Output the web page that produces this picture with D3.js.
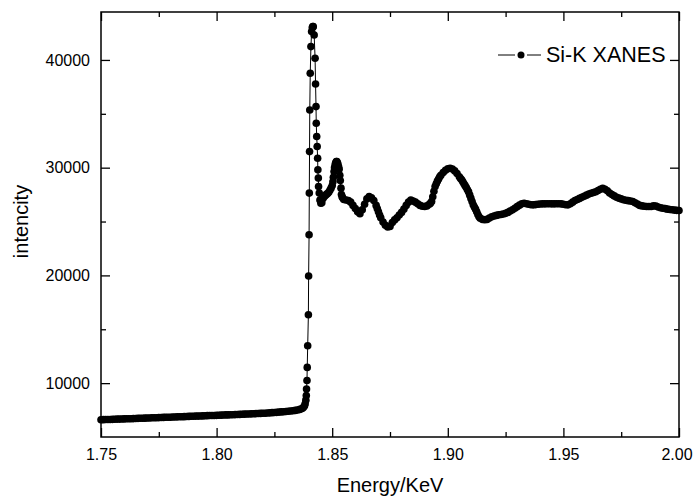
<!DOCTYPE html>
<html><head><meta charset="utf-8">
<script src="https://cdn.jsdelivr.net/npm/d3@7/dist/d3.min.js"></script>
<style>
body{margin:0;background:#fff}
svg{display:block}
text{font-family:"Liberation Sans",Arial,Helvetica,sans-serif;fill:#000}
</style>
</head><body>
<svg id="chart" width="693" height="496"></svg>
<script>
// ---- data (energy in keV, intensity in counts) ----
const preEdge = [
[1.750,6600],[1.751,6610],[1.752,6620],[1.753,6620],[1.754,6630],[1.755,6640],[1.756,6650],[1.757,6660],[1.758,6660],[1.759,6670],
[1.760,6680],[1.761,6690],[1.762,6700],[1.763,6700],[1.764,6710],[1.765,6720],[1.766,6730],[1.767,6740],[1.768,6740],[1.769,6750],
[1.770,6760],[1.771,6770],[1.772,6780],[1.773,6790],[1.774,6790],[1.775,6800],[1.776,6810],[1.777,6820],[1.778,6830],[1.779,6830],
[1.780,6840],[1.781,6850],[1.782,6860],[1.783,6870],[1.784,6880],[1.785,6880],[1.786,6890],[1.787,6900],[1.788,6910],[1.789,6920],
[1.790,6930],[1.791,6940],[1.792,6940],[1.793,6950],[1.794,6960],[1.795,6970],[1.796,6980],[1.797,6990],[1.798,6990],[1.799,7000],
[1.800,7010],[1.801,7020],[1.802,7030],[1.803,7040],[1.804,7050],[1.805,7050],[1.806,7060],[1.807,7070],[1.808,7080],[1.809,7090],
[1.810,7100],[1.811,7110],[1.812,7120],[1.813,7130],[1.814,7140],[1.815,7150],[1.816,7160],[1.817,7170],[1.818,7180],[1.819,7190],
[1.820,7200],[1.821,7210],[1.822,7230],[1.823,7240],[1.824,7260],[1.825,7270],[1.826,7290],[1.827,7310],[1.828,7330],[1.829,7350],
[1.830,7370],[1.831,7390],[1.832,7410],[1.833,7440],[1.834,7470],[1.835,7510],[1.836,7560],[1.837,7650],[1.8375,7740],[1.838,7870]
];
const edgeJump = [
[1.8383,8080],[1.8386,8420],[1.8388,8850],[1.8389,9450],[1.8391,10250],[1.8392,11460],[1.8394,13470],[1.8397,16350],
[1.8398,19940],[1.8400,23770],[1.8401,27640],[1.8402,31490],[1.8403,35360],[1.8405,38760],[1.8408,41240],[1.8411,42630],
[1.8414,43000],[1.8416,43100],[1.8418,43090],[1.8422,42320],[1.8426,40160],[1.8428,37770],[1.8430,35670],[1.8431,34130],
[1.8433,32890],[1.8435,31960],[1.8437,30880],[1.8438,29800],[1.8440,29030],[1.8441,28250],[1.8444,27640],[1.8447,27000],[1.8451,26700]
];
const postEdge = [
[1.8455,26750],[1.8460,27150],[1.8465,27300],[1.8470,27420],[1.8475,27520],[1.8480,27600],[1.8485,27720],[1.8490,27900],[1.8495,28100],
[1.8500,28350],[1.8503,28700],[1.8505,29100],[1.8508,29650],[1.8510,30000],[1.8513,30300],[1.8515,30450],[1.8518,30560],[1.8520,30560],
[1.8523,30450],[1.8525,30300],[1.8528,30050],[1.8530,29850],[1.8533,29300],[1.8535,28800],[1.8538,28100],[1.8540,27500],[1.8543,27300],
[1.8545,27200],[1.8550,27050],[1.856,27000],[1.857,26950],[1.858,26800],[1.859,26500],[1.860,26200],[1.861,25900],[1.862,25720],
[1.863,26100],[1.864,26600],[1.865,27100],[1.866,27320],[1.867,27200],[1.868,26950],[1.869,26500],[1.8695,26200],[1.870,25900],
[1.8705,25600],[1.871,25350],[1.872,24950],[1.873,24650],[1.874,24500],[1.875,24550],[1.876,24900],[1.877,25150],[1.878,25350],
[1.879,25600],[1.880,25850],[1.881,26150],[1.882,26500],[1.883,26800],[1.884,27000],[1.885,26900],[1.886,26800],[1.887,26650],
[1.888,26500],[1.889,26420],[1.890,26400],[1.891,26450],[1.892,26600],[1.8925,26700],[1.893,26860],[1.8935,27300],[1.894,27800],
[1.8945,28250],[1.895,28500],[1.8955,28750],[1.896,28950],[1.8965,29150],[1.897,29300],[1.898,29550],[1.899,29750],[1.900,29900],
[1.901,29950],[1.902,29870],[1.903,29700],[1.904,29450],[1.905,29150],[1.9055,29000],[1.906,28870],[1.9065,28700],[1.907,28500],
[1.9075,28330],[1.908,28150],[1.9085,27950],[1.909,27750],[1.9095,27450],[1.910,27150],[1.9105,26850],[1.911,26550],[1.9115,26350],
[1.912,26150],[1.9125,25900],[1.913,25650],[1.9135,25450],[1.914,25300],[1.915,25200],[1.916,25160],[1.917,25200],[1.918,25330],
[1.919,25450],[1.920,25520],[1.921,25570],[1.922,25620],[1.923,25650],[1.924,25700],[1.925,25760],[1.926,25850],[1.927,25980],
[1.928,26100],[1.929,26230],[1.930,26380],[1.931,26520],[1.932,26640],[1.933,26700],[1.934,26650],[1.935,26600],[1.936,26560],
[1.937,26550],[1.938,26570],[1.939,26600],[1.940,26630],[1.941,26640],[1.942,26640],[1.943,26650],[1.944,26650],[1.945,26640],
[1.946,26640],[1.947,26650],[1.948,26650],[1.949,26640],[1.950,26600],[1.951,26560],[1.952,26550],[1.953,26650],[1.954,26800],
[1.955,26950],[1.956,27050],[1.957,27150],[1.958,27250],[1.959,27350],[1.960,27450],[1.961,27550],[1.962,27620],[1.963,27690],
[1.964,27760],[1.965,27880],[1.966,28000],[1.967,28090],[1.968,28000],[1.969,27850],[1.970,27650],[1.971,27500],[1.972,27380],
[1.973,27250],[1.974,27170],[1.975,27100],[1.976,27020],[1.977,26970],[1.978,26940],[1.979,26900],[1.980,26860],[1.981,26750],
[1.982,26620],[1.983,26500],[1.984,26450],[1.985,26420],[1.986,26400],[1.987,26390],[1.988,26400],[1.989,26450],[1.990,26440],
[1.991,26350],[1.992,26280],[1.993,26240],[1.994,26200],[1.995,26150],[1.996,26120],[1.997,26090],[1.998,26060],[1.999,26040],[2.000,26020]
];
const xTicks = [1.75, 1.80, 1.85, 1.90, 1.95, 2.00];
const xMinorTicks = [1.775, 1.825, 1.875, 1.925, 1.975];
const yTicks = [10000, 20000, 30000, 40000];
const yMinorTicks = [15000, 25000, 35000];
const xDomain = [1.75, 2.00];
const yDomain = [5000, 44450];
const xTitle = "Energy/KeV";
const yTitle = "intencity";
const seriesName = "Si-K XANES";

// ---- layout ----
const L = 101, R = 679, T = 12, B = 437;
const svg = d3.select("#chart");
const x = d3.scaleLinear().domain(xDomain).range([L, R]);
const y = d3.scaleLinear().domain(yDomain).range([B, T]);
const data = preEdge.concat(edgeJump, postEdge);

function styleAxis(g){
  g.select(".domain").remove();
  g.selectAll(".tick line").attr("stroke","#000").attr("stroke-width",1.3);
  g.selectAll(".tick text").attr("font-size",16).attr("font-family",'"Liberation Sans",Arial,sans-serif').attr("fill","#000");
}
const MAJ = -9, MIN = -5;
// bottom
const gb = svg.append("g").attr("transform",`translate(0,${B})`)
  .call(d3.axisBottom(x).tickValues(xTicks).tickSize(MAJ).tickPadding(11.5).tickFormat(d3.format(".2f"))).call(styleAxis);
gb.selectAll(".tick text").filter(d => d === xDomain[1]).attr("dx", -2.5);
svg.append("g").attr("transform",`translate(0,${B})`)
  .call(d3.axisBottom(x).tickValues(xMinorTicks).tickSize(MIN).tickFormat("")).call(styleAxis);
// top
svg.append("g").attr("transform",`translate(0,${T})`)
  .call(d3.axisTop(x).tickValues(xTicks).tickSize(MAJ).tickFormat("")).call(styleAxis);
svg.append("g").attr("transform",`translate(0,${T})`)
  .call(d3.axisTop(x).tickValues(xMinorTicks).tickSize(MIN).tickFormat("")).call(styleAxis);
// left
svg.append("g").attr("transform",`translate(${L},0)`)
  .call(d3.axisLeft(y).tickValues(yTicks).tickSize(MAJ).tickPadding(11).tickFormat(d3.format("d"))).call(styleAxis);
svg.append("g").attr("transform",`translate(${L},0)`)
  .call(d3.axisLeft(y).tickValues(yMinorTicks).tickSize(MIN).tickFormat("")).call(styleAxis);
// right
svg.append("g").attr("transform",`translate(${R},0)`)
  .call(d3.axisRight(y).tickValues(yTicks).tickSize(MAJ).tickFormat("")).call(styleAxis);
svg.append("g").attr("transform",`translate(${R},0)`)
  .call(d3.axisRight(y).tickValues(yMinorTicks).tickSize(MIN).tickFormat("")).call(styleAxis);

// frame
svg.append("rect").attr("x",L).attr("y",T).attr("width",R-L).attr("height",B-T)
  .attr("fill","none").attr("stroke","#000").attr("stroke-width",1.5);

// series
const line = d3.line().x(d=>x(d[0])).y(d=>y(d[1]));
svg.append("path").datum(data).attr("d",line).attr("fill","none").attr("stroke","#000").attr("stroke-width",1);
svg.append("g").selectAll("circle").data(data).join("circle")
  .attr("cx",d=>x(d[0])).attr("cy",d=>y(d[1])).attr("r",3.8).attr("fill","#000");

// titles
svg.append("text").attr("x",(L+R)/2).attr("y",492).attr("text-anchor","middle").attr("font-size",20).text(xTitle);
svg.append("text").attr("transform",`translate(28,${(B+T)/2 - 3}) rotate(-90)`).attr("text-anchor","middle").attr("font-size",20).text(yTitle);

// legend
const lg = svg.append("g");
lg.append("line").attr("x1",498).attr("x2",515).attr("y1",55).attr("y2",55).attr("stroke","#000").attr("stroke-width",1);
lg.append("line").attr("x1",527).attr("x2",541).attr("y1",55).attr("y2",55).attr("stroke","#000").attr("stroke-width",1);
lg.append("circle").attr("cx",521).attr("cy",55).attr("r",3.5).attr("fill","#000");
lg.append("text").attr("x",546).attr("y",62).attr("font-size",21.5).text(seriesName);
</script>
</body></html>
